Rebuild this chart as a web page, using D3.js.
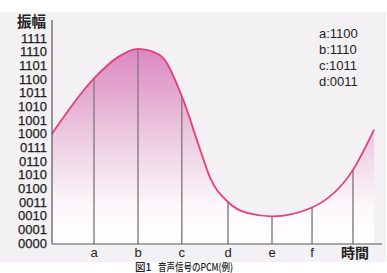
<!DOCTYPE html>
<html><head><meta charset="utf-8">
<script src="https://cdn.jsdelivr.net/npm/d3@7"></script>
<style>body{margin:0;background:#fff}svg{display:block}</style>
</head><body>
<svg id="c" width="387" height="273"></svg>
<script>
// ---- data ----
const levelLabels = ["0000","0001","0010","0011","0100","1010","0110","0111","1000","1001","1010","1011","1100","1101","1110","1111"];
const sampleNames = ["a","b","c","d","e","f"];
const sampleTimes = [0.955, 1.955, 2.95, 4.0, 5.0, 5.91, 6.84];
const sampleLevels = [12.05, 14.2, 10.75, 3.0, 1.95, 2.6, 5.35];
const timeLabel = "時間";
const curveTimes  = [0, 0.955, 1.5, 1.955, 2.45, 2.95, 3.36, 3.59, 4.0, 4.43, 5.0, 5.91, 6.84, 7.32];
const curveLevels = [8.0, 12.05, 13.6, 14.2, 13.75, 10.75, 6.9, 4.8, 3.0, 2.2, 1.95, 2.6, 5.35, 8.3];
const legendLines = ["a:1100","b:1110","c:1011","d:0011"];
const yTitle = "振幅";
const captionNo = "図1";
const caption = "音声信号のPCM(例)";

// ---- chart ----
const svg = d3.select("#c");
const x = d3.scaleLinear().domain([0, 7.5]).range([52, 382]);
const y = d3.scaleLinear().domain([0, 15]).range([243, 38]);
const baseY = 244;

// background panel
svg.append("rect").attr("x",0).attr("y",12).attr("width",386).attr("height",250).attr("fill","#f3f1f3");

const defs = svg.append("defs");
const g = defs.append("linearGradient").attr("id","fillg").attr("gradientUnits","userSpaceOnUse")
  .attr("x1",0).attr("x2",0).attr("y1",y(14.3)).attr("y2",baseY);
g.append("stop").attr("offset","0").attr("stop-color","#db86c0");
g.append("stop").attr("offset","0.45").attr("stop-color","#eccae0");
g.append("stop").attr("offset","0.8").attr("stop-color","#fbf7fa");
g.append("stop").attr("offset","1").attr("stop-color","#ffffff");

const pts = curveTimes.map((t,i)=>[t, curveLevels[i]]);
const curve = d3.curveMonotoneX;
const area = d3.area().x(d=>x(d[0])).y0(baseY).y1(d=>y(d[1])).curve(curve);
svg.append("path").datum(pts).attr("d",area).attr("fill","url(#fillg)");

// sample lines
svg.selectAll("line.s").data(sampleTimes).enter().append("line")
  .attr("x1",d=>x(d)).attr("x2",d=>x(d))
  .attr("y1",baseY).attr("y2",(d,i)=>y(sampleLevels[i]))
  .attr("stroke","#857b7f").attr("stroke-width",1.4);

// curve
const line = d3.line().x(d=>x(d[0])).y(d=>y(d[1])).curve(curve);
svg.append("path").datum(pts).attr("d",line).attr("fill","none").attr("stroke","#e5407c").attr("stroke-width",1.8);

// axes
svg.append("line").attr("x1",52).attr("x2",52).attr("y1",20).attr("y2",baseY).attr("stroke","#5a5457").attr("stroke-width",1.2);
svg.append("line").attr("x1",52).attr("x2",382).attr("y1",baseY).attr("y2",baseY).attr("stroke","#5a5457").attr("stroke-width",1.2);

const font = "Liberation Sans, Arial, sans-serif";
// y labels
svg.selectAll("text.yl").data(levelLabels).enter().append("text")
  .attr("x",47).attr("y",(d,i)=>y(i)+4.5).attr("text-anchor","end")
  .attr("font-family",font).attr("font-size",13).attr("fill","#222")
  .attr("stroke","#222").attr("stroke-width",0.25).text(d=>d);
svg.append("text").attr("x",17).attr("y",27).attr("font-family","Noto Sans CJK JP, sans-serif")
  .attr("font-size",14.5).attr("font-weight",700).attr("fill","#222").text(yTitle);

// x labels
svg.selectAll("text.xl").data(sampleNames).enter().append("text")
  .attr("x",(d,i)=>x(sampleTimes[i])).attr("y",257).attr("text-anchor","middle")
  .attr("font-family",font).attr("font-size",13).attr("fill","#222").text(d=>d);
svg.append("text").attr("x",x(sampleTimes[6])+2).attr("y",258).attr("text-anchor","middle")
  .attr("font-family","Noto Sans CJK JP, sans-serif").attr("font-size",14).attr("font-weight",700).attr("fill","#222").text(timeLabel);

// legend
svg.selectAll("text.lg").data(legendLines).enter().append("text")
  .attr("x",319).attr("y",(d,i)=>38+i*16)
  .attr("font-family",font).attr("font-size",13).attr("fill","#222").text(d=>d);

// caption
svg.append("text").attr("x",135).attr("y",271).attr("font-family","Noto Sans CJK JP, sans-serif")
  .attr("font-size",10.5).attr("font-weight",500).attr("fill","#222").text(captionNo);
svg.append("text").attr("x",158).attr("y",271).attr("font-family","Noto Sans CJK JP, sans-serif")
  .attr("font-size",10.5).attr("font-weight",500).attr("fill","#222")
  .attr("textLength",75).attr("lengthAdjust","spacingAndGlyphs").text(caption);
</script>
</body></html>
